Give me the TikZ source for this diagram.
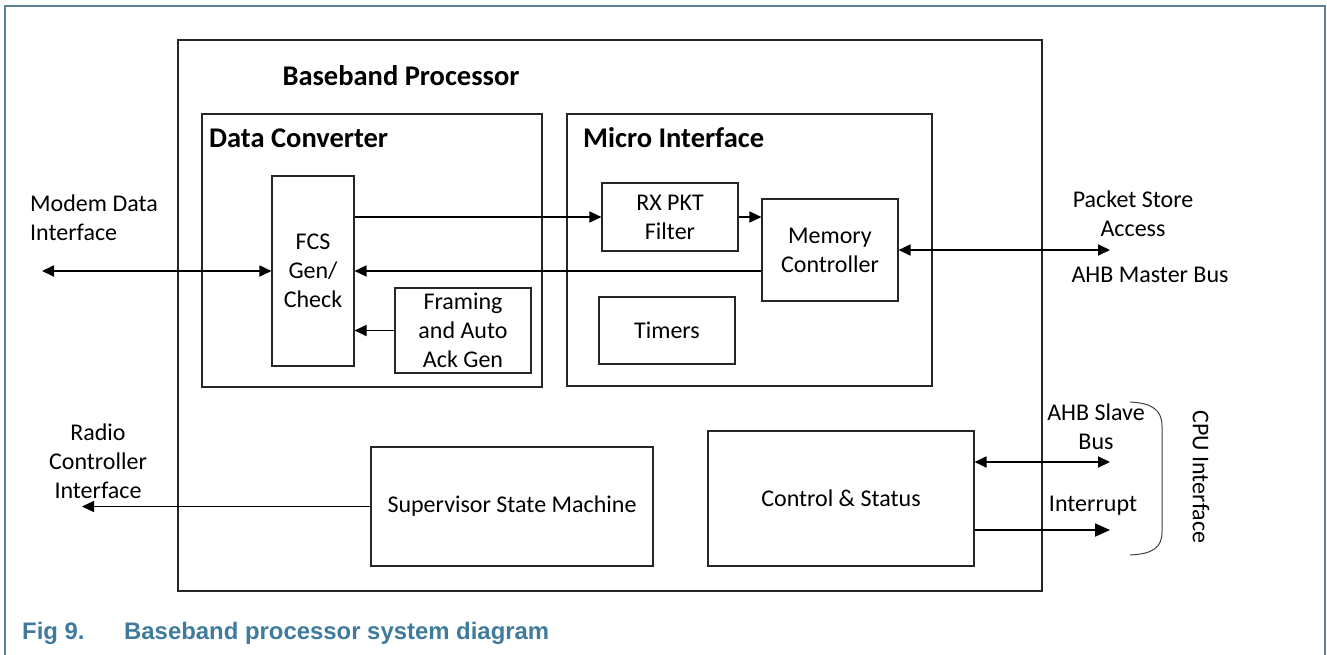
\documentclass[tikz,border=0pt]{standalone}
\usepackage{fontspec}
\setmainfont{Carlito}
\newfontfamily\capfont{Liberation Sans}
\usetikzlibrary{arrows.meta}
\definecolor{frameblue}{RGB}{92,128,152}
\definecolor{capblue}{RGB}{64,122,156}
\tikzset{
  body/.style={font=\fontsize{24}{29}\selectfont, align=center},
  head/.style={font=\bfseries\fontsize{28.5}{33}\selectfont, inner sep=0pt},
  blk/.style={draw=black!85, line width=1.1pt, inner sep=0pt, body},
  conn/.style={line width=1.8pt, black},
  thin conn/.style={line width=1.5pt, black},
  tip/.style={-{Triangle[length=12pt,width=11pt]}},
  dtip/.style={{Triangle[length=12pt,width=11pt]}-{Triangle[length=12pt,width=11pt]}},
  captext/.style={anchor=base west, inner sep=0pt, text=capblue, font=\capfont\bfseries\fontsize{23.9}{28}\selectfont},
}
\begin{document}
\begin{tikzpicture}[x=1pt,y=-1pt]
\useasboundingbox (0,0) rectangle (1327,654);
% outer frame
\draw[frameblue, line width=1.6pt] (5,660) -- (5,6) -- (1325,6) -- (1325,660);
% boxes
\node[blk, minimum width=864pt, minimum height=551pt] (bb) at (610,315.5) {};
\node[head, anchor=base] (bbl) at (401,85) {Baseband Processor};
\node[blk, minimum width=340pt, minimum height=273pt] (dc) at (372,250.5) {};
\node[head, anchor=base west] (dcl) at (209,147) {Data Converter};
\node[blk, minimum width=365pt, minimum height=272pt] (mi) at (749.5,250) {};
\node[head, anchor=base west] (mil) at (583,147) {Micro Interface};
\node[blk, minimum width=82pt, minimum height=190pt] (fcs) at (313,271) {FCS\\Gen/\\Check};
\node[blk, minimum width=136pt, minimum height=85pt] (fr) at (463,330.5) {Framing\\and Auto\\Ack Gen};
\node[blk, minimum width=136pt, minimum height=68pt] (rx) at (670,217) {RX PKT\\Filter};
\node[blk, minimum width=136pt, minimum height=102pt] (mem) at (830,250) {Memory\\Controller};
\node[blk, minimum width=136pt, minimum height=67pt] (tim) at (667,330.5) {Timers};
\node[blk, minimum width=282pt, minimum height=119pt] (sup) at (512,506.5) {Supervisor State Machine};
\node[blk, minimum width=266pt, minimum height=135pt] (ctl) at (841,498.5) {Control \& Status};
% external labels
\node[body, align=left, anchor=west, inner sep=0pt] (modl) at (30,218) {Modem Data\\Interface};
\node[body, inner sep=0pt] (radl) at (98,461) {Radio\\Controller\\Interface};
\node[body, inner sep=0pt] (psl) at (1133,214) {Packet Store\\Access};
\node[body, anchor=base, inner sep=0pt] (ahbm) at (1150,282) {AHB Master Bus};
\node[body, inner sep=0pt] (ahbs) at (1096,427) {AHB Slave\\Bus};
\node[body, anchor=base, inner sep=0pt] (intl) at (1093,511) {Interrupt};
\node[body, rotate=-90, inner sep=0pt] (cpu) at (1201,477) {CPU Interface};
% free ends
\coordinate (modE) at (42,271);
\coordinate (radE) at (82,506.5);
\coordinate (pktE) at (1110,250);
\coordinate (slvE) at (1110,462);
\coordinate (intE) at (1110,530);
% connectors
\draw[conn, dtip] (modE) -- (fcs.west);
\draw[thin conn, tip] (fcs.east |- rx.west) -- (rx.west);
\draw[thin conn, tip] (rx.east) -- (mem.west |- rx.east);
\draw[conn, tip] (mem.west |- fcs.east) -- (fcs.east);
\draw[conn, tip] (fr.west) -- (fcs.east |- fr.west);
\draw[conn, dtip] (mem.east) -- (pktE);
\draw[thin conn, tip] (sup.west) -- (radE);
\draw[conn, dtip] (ctl.east |- slvE) -- (slvE);
\draw[conn, -{Triangle[length=15pt,width=13pt]}] (ctl.east |- intE) -- (intE);
% brace
\draw[black!75, line width=1pt] (1130,402) .. controls (1152,403) and (1162,410) .. (1162,426) -- (1162,532) .. controls (1162,548) and (1152,554) .. (1130,555);
% caption
\node[captext] (figno) at (22,639) {Fig 9.};
\node[captext] (cap) at (124,639) {Baseband processor system diagram};
\end{tikzpicture}
\end{document}
